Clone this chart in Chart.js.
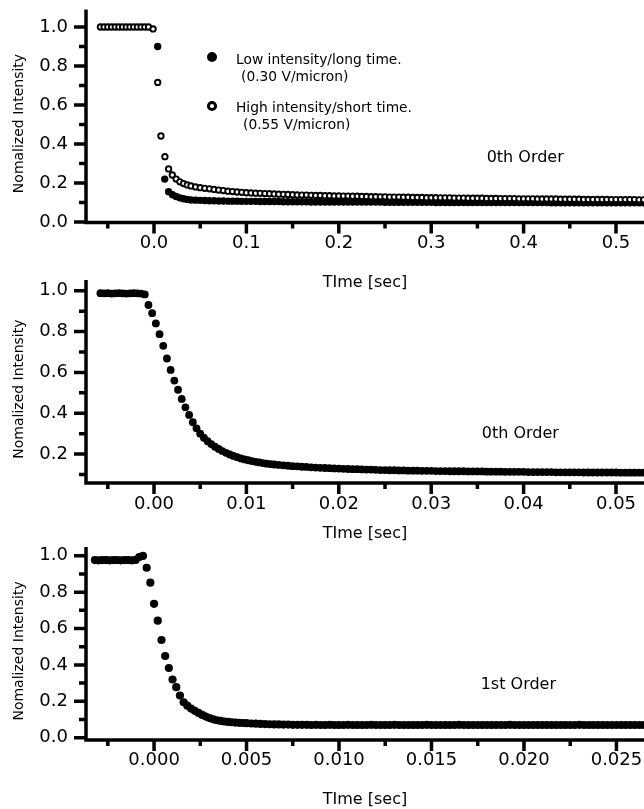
<!DOCTYPE html>
<html>
<head>
<meta charset="utf-8">
<script src="https://cdn.jsdelivr.net/npm/chart.js@4.4.0/dist/chart.umd.min.js"></script>
<style>
  html, body { margin: 0; padding: 0; background: #fff; }
  body { width: 644px; height: 809px; position: relative; overflow: hidden; }
  canvas { position: absolute; left: 0; }
</style>
</head>
<body>
<canvas id="c1" width="644" height="295" style="top:0px"></canvas>
<canvas id="c2" width="644" height="280" style="top:270px"></canvas>
<canvas id="c3" width="644" height="274" style="top:535px"></canvas>
<script>
// ===== DATA =====
const seriesNames = ['Low intensity/long time.', 'High intensity/short time.'];
const seriesFields = ['(0.30 V/micron)', '(0.55 V/micron)'];
const orderLabels = ['0th Order', '0th Order', '1st Order'];
const xTitle = 'TIme [sec]';
const yTitle = 'Nomalized Intensity';

// panel 1 - 0th order, two drive levels
const p1HighTime = [-0.058,-0.054,-0.050,-0.046,-0.042,-0.038,-0.034,-0.030,-0.026,-0.022,-0.018,-0.014,-0.010,-0.006,
  -0.001,0.004,0.0075,0.0118,0.0158,0.0198,0.024,0.028,0.032,0.036,0.040,
  0.045,0.050,0.055,0.060,0.065,0.070,0.075,0.080,0.085,0.090,0.095,0.100,
  0.105,0.110,0.115,0.120,0.125,0.130,0.135,0.140,0.145,0.150,0.155,0.160,0.165,0.170,0.175,0.180,0.185,0.190,0.195,0.200,
  0.205,0.210,0.215,0.220,0.225,0.230,0.235,0.240,0.245,0.250,0.255,0.260,0.265,0.270,0.275,0.280,0.285,0.290,0.295,0.300,
  0.305,0.310,0.315,0.320,0.325,0.330,0.335,0.340,0.345,0.350,0.355,0.360,0.365,0.370,0.375,0.380,0.385,0.390,0.395,0.400,
  0.405,0.410,0.415,0.420,0.425,0.430,0.435,0.440,0.445,0.450,0.455,0.460,0.465,0.470,0.475,0.480,0.485,0.490,0.495,0.500,
  0.505,0.510,0.515,0.520,0.525,0.530];
const p1High = [1.00,1.00,1.00,1.00,1.00,1.00,1.00,1.00,1.00,1.00,1.00,1.00,1.00,1.00,
  0.990,0.716,0.441,0.335,0.272,0.241,0.220,0.206,0.197,0.190,0.185,
  0.180,0.176,0.173,0.170,0.167,0.164,0.161,0.158,0.156,0.154,0.152,0.150,
  0.149,0.148,0.147,0.146,0.145,0.144,0.143,0.142,0.141,0.140,0.139,0.138,0.138,0.137,0.136,0.136,0.135,0.135,0.134,0.134,
  0.133,0.133,0.132,0.132,0.131,0.131,0.130,0.130,0.129,0.129,0.128,0.128,0.128,0.127,0.127,0.126,0.126,0.126,0.125,0.125,
  0.125,0.124,0.124,0.124,0.123,0.123,0.123,0.122,0.122,0.122,0.122,0.121,0.121,0.121,0.120,0.120,0.120,0.120,0.119,0.119,
  0.119,0.119,0.118,0.118,0.118,0.118,0.118,0.117,0.117,0.117,0.117,0.117,0.116,0.116,0.116,0.116,0.116,0.116,0.115,0.115,
  0.115,0.115,0.115,0.115,0.114,0.114];
const p1LowTime = [0.004,0.0116,0.0158,0.020,0.024,0.028,0.032,0.036,0.040,
  0.045,0.050,0.055,0.060,0.065,0.070,0.075,0.080,0.085,0.090,0.095,0.100,
  0.105,0.110,0.115,0.120,0.125,0.130,0.135,0.140,0.145,0.150,0.155,0.160,0.165,0.170,0.175,0.180,0.185,0.190,0.195,0.200,
  0.205,0.210,0.215,0.220,0.225,0.230,0.235,0.240,0.245,0.250,0.255,0.260,0.265,0.270,0.275,0.280,0.285,0.290,0.295,0.300,
  0.305,0.310,0.315,0.320,0.325,0.330,0.335,0.340,0.345,0.350,0.355,0.360,0.365,0.370,0.375,0.380,0.385,0.390,0.395,0.400,
  0.405,0.410,0.415,0.420,0.425,0.430,0.435,0.440,0.445,0.450,0.455,0.460,0.465,0.470,0.475,0.480,0.485,0.490,0.495,0.500,
  0.505,0.510,0.515,0.520,0.525,0.530];
const p1Low = [0.900,0.220,0.155,0.140,0.131,0.124,0.119,0.116,0.113,
  0.112,0.111,0.110,0.109,0.109,0.108,0.108,0.107,0.107,0.107,0.106,0.106,
  0.106,0.106,0.105,0.105,0.105,0.105,0.105,0.104,0.104,0.104,0.104,0.104,0.104,0.103,0.103,0.103,0.103,0.103,0.103,0.103,
  0.103,0.102,0.102,0.102,0.102,0.102,0.102,0.102,0.102,0.101,0.101,0.101,0.101,0.101,0.101,0.101,0.101,0.101,0.101,0.101,
  0.100,0.100,0.100,0.100,0.100,0.100,0.100,0.100,0.100,0.100,0.100,0.100,0.100,0.100,0.100,0.100,0.100,0.100,0.100,0.100,
  0.100,0.100,0.100,0.100,0.100,0.099,0.099,0.099,0.099,0.099,0.099,0.099,0.099,0.099,0.099,0.099,0.099,0.099,0.099,0.099,
  0.099,0.099,0.099,0.099,0.099,0.099];

// panel 2 - 0th order, expanded time
const p2Time = [-0.0058,-0.0054,-0.0050,-0.0046,-0.0042,-0.0038,-0.0034,-0.0030,-0.0026,-0.0022,-0.0018,-0.0014,-0.0010,
  -0.0006,-0.0002,0.0002,0.0006,0.0010,0.0014,0.0018,0.0022,0.0026,0.0030,0.0034,0.0038,0.0042,
  0.0046,0.0050,0.0054,0.0058,0.0062,0.0066,0.0070,0.0074,0.0078,0.0082,0.0086,0.0090,0.0094,0.0098,0.0102,0.0106,0.0110,0.0114,0.0118,0.0122,0.0126,0.0130,
  0.0135,0.0140,0.0145,0.0150,0.0155,0.0160,0.0165,0.0170,0.0175,0.0180,0.0185,0.0190,0.0195,0.0200,
  0.0205,0.0210,0.0215,0.0220,0.0225,0.0230,0.0235,0.0240,0.0245,0.0250,0.0255,0.0260,0.0265,0.0270,0.0275,0.0280,0.0285,0.0290,0.0295,0.0300,
  0.0305,0.0310,0.0315,0.0320,0.0325,0.0330,0.0335,0.0340,0.0345,0.0350,0.0355,0.0360,0.0365,0.0370,0.0375,0.0380,0.0385,0.0390,0.0395,0.0400,
  0.0405,0.0410,0.0415,0.0420,0.0425,0.0430,0.0435,0.0440,0.0445,0.0450,0.0455,0.0460,0.0465,0.0470,0.0475,0.0480,0.0485,0.0490,0.0495,0.0500,
  0.0505,0.0510,0.0515,0.0520,0.0525,0.0530];
const p2Value = [0.988,0.987,0.988,0.986,0.987,0.988,0.987,0.986,0.987,0.988,0.987,0.986,0.982,
  0.930,0.890,0.840,0.787,0.730,0.668,0.612,0.560,0.515,0.470,0.429,0.392,0.356,
  0.326,0.300,0.280,0.263,0.249,0.236,0.225,0.215,0.206,0.198,0.191,0.185,0.179,0.174,0.170,0.166,0.162,0.159,0.156,0.153,0.151,0.149,
  0.147,0.145,0.143,0.141,0.140,0.138,0.137,0.135,0.134,0.133,0.132,0.131,0.130,0.129,
  0.128,0.127,0.126,0.126,0.125,0.124,0.124,0.123,0.122,0.122,0.121,0.121,0.120,0.120,0.119,0.119,0.119,0.118,0.118,0.118,
  0.117,0.117,0.117,0.116,0.116,0.116,0.116,0.115,0.115,0.115,0.115,0.114,0.114,0.114,0.114,0.113,0.113,0.113,0.113,0.113,
  0.112,0.112,0.112,0.112,0.112,0.112,0.111,0.111,0.111,0.111,0.111,0.111,0.110,0.110,0.110,0.110,0.110,0.110,0.110,0.110,
  0.109,0.109,0.109,0.109,0.109,0.109];

// panel 3 - 1st order
const p3Time = [-0.0032,-0.0030,-0.0028,-0.0026,-0.0024,-0.0022,-0.0020,-0.0018,-0.0016,-0.0014,-0.0012,-0.0010,-0.0008,-0.0006,
  -0.0004,-0.0002,0.0000,0.0002,0.0004,0.0006,0.0008,0.0010,0.0012,0.0014,0.0016,0.0018,0.0020,0.0022,
  0.0024,0.0026,0.0028,0.0030,0.0032,0.0034,0.0036,0.0038,0.0040,0.0042,0.0044,0.0046,0.0048,0.0050,
  0.00525,0.0055,0.00575,0.0060,0.00625,0.0065,0.00675,0.0070,0.00725,0.0075,0.00775,0.0080,
  0.00825,0.0085,0.00875,0.0090,0.00925,0.0095,0.00975,0.0100,
  0.01025,0.0105,0.01075,0.0110,0.01125,0.0115,0.01175,0.0120,
  0.01225,0.0125,0.01275,0.0130,0.01325,0.0135,0.01375,0.0140,
  0.01425,0.0145,0.01475,0.0150,0.01525,0.0155,0.01575,0.0160,
  0.01625,0.0165,0.01675,0.0170,0.01725,0.0175,0.01775,0.0180,
  0.01825,0.0185,0.01875,0.0190,0.01925,0.0195,0.01975,0.0200,
  0.02025,0.0205,0.02075,0.0210,0.02125,0.0215,0.02175,0.0220,
  0.02225,0.0225,0.02275,0.0230,0.02325,0.0235,0.02375,0.0240,
  0.02425,0.0245,0.02475,0.0250,0.02525,0.0255,0.02575,0.0260,
  0.02625,0.0265];
const p3Value = [0.976,0.975,0.976,0.976,0.975,0.976,0.976,0.975,0.976,0.976,0.975,0.977,0.993,0.999,
  0.934,0.852,0.736,0.643,0.537,0.449,0.383,0.320,0.278,0.232,0.195,0.176,0.160,0.148,
  0.136,0.125,0.116,0.108,0.101,0.096,0.092,0.089,0.087,0.085,0.083,0.082,0.081,0.080,
  0.078,0.077,0.076,0.075,0.074,0.073,0.073,0.072,0.072,0.071,0.071,0.071,
  0.071,0.070,0.071,0.070,0.070,0.071,0.070,0.070,
  0.070,0.071,0.070,0.070,0.070,0.070,0.071,0.070,
  0.070,0.070,0.070,0.071,0.070,0.070,0.070,0.070,
  0.070,0.070,0.071,0.070,0.070,0.070,0.070,0.070,
  0.070,0.071,0.070,0.070,0.070,0.070,0.070,0.070,
  0.070,0.070,0.070,0.070,0.071,0.070,0.070,0.070,
  0.070,0.070,0.070,0.070,0.070,0.070,0.070,0.070,
  0.070,0.070,0.070,0.071,0.070,0.070,0.070,0.070,
  0.070,0.070,0.070,0.070,0.070,0.070,0.070,0.070,
  0.070,0.070];

// tick values
const yMajorA = [0, 0.2, 0.4, 0.6, 0.8, 1.0];
const yMajorB = [0.2, 0.4, 0.6, 0.8, 1.0];
const yMinor = [0.1, 0.3, 0.5, 0.7, 0.9];
const xMajor1 = [0, 0.1, 0.2, 0.3, 0.4, 0.5];
const xMinor1 = [-0.05, 0.05, 0.15, 0.25, 0.35, 0.45];
const xMajor2 = [0, 0.01, 0.02, 0.03, 0.04, 0.05];
const xMinor2 = [-0.005, 0.005, 0.015, 0.025, 0.035, 0.045];
const xMajor3 = [0, 0.005, 0.010, 0.015, 0.020, 0.025];
const xMinor3 = [-0.0025, 0.0025, 0.0075, 0.0125, 0.0175, 0.0225];

const FONT = 'DejaVu Sans';
const pts = (t, v) => t.map((x, i) => ({ x, y: v[i] }));

// ===== AXES / TEXT PLUGIN =====
function axesPlugin(cfg) {
  return {
    id: 'axesDraw',
    afterDraw(chart) {
      const { ctx, chartArea: a, scales: { x, y } } = chart;
      ctx.save();
      ctx.strokeStyle = '#000';
      ctx.fillStyle = '#000';
      ctx.lineWidth = 3.5;
      ctx.beginPath();
      ctx.moveTo(a.left, a.top); ctx.lineTo(a.left, a.bottom + 1.75);
      ctx.moveTo(a.left - 1.75, a.bottom); ctx.lineTo(a.right, a.bottom);
      cfg.yMajor.forEach(v => { const p = y.getPixelForValue(v); ctx.moveTo(a.left - 12, p); ctx.lineTo(a.left, p); });
      yMinor.forEach(v => { const p = y.getPixelForValue(v); ctx.moveTo(a.left - 7, p); ctx.lineTo(a.left, p); });
      cfg.xMajor.forEach(v => { const p = x.getPixelForValue(v); ctx.moveTo(p, a.bottom); ctx.lineTo(p, a.bottom + 11); });
      cfg.xMinor.forEach(v => { const p = x.getPixelForValue(v); ctx.moveTo(p, a.bottom); ctx.lineTo(p, a.bottom + 6); });
      ctx.stroke();

      // y title
      ctx.save();
      ctx.translate(19, (a.top + a.bottom) / 2 + 7.5);
      ctx.rotate(-Math.PI / 2);
      ctx.font = `14px "${FONT}"`;
      ctx.textAlign = 'center';
      ctx.textBaseline = 'middle';
      ctx.fillText(yTitle, 0, 0);
      ctx.restore();

      // order note
      ctx.font = `16px "${FONT}"`;
      ctx.textAlign = 'left';
      ctx.textBaseline = 'alphabetic';
      ctx.fillText(cfg.note.text, x.getPixelForValue(cfg.note.x), y.getPixelForValue(cfg.note.y));

      // legend (panel 1 only)
      if (cfg.legend) {
        ctx.font = `13.8px "${FONT}"`;
        ctx.beginPath(); ctx.arc(212, 57, 5, 0, Math.PI * 2); ctx.fill();
        ctx.fillText(seriesNames[0], 236, 63.5);
        ctx.fillText(seriesFields[0], 241, 80.5);
        ctx.lineWidth = 3;
        ctx.beginPath(); ctx.arc(212, 106, 3.6, 0, Math.PI * 2); ctx.stroke();
        ctx.fillText(seriesNames[1], 236, 111.7);
        ctx.fillText(seriesFields[1], 243, 128.5);
      }
      ctx.restore();
    }
  };
}

function makePanel(id, cfg) {
  return new Chart(document.getElementById(id), {
    type: 'scatter',
    data: { datasets: cfg.datasets },
    options: {
      responsive: false,
      animation: false,
      events: [],
      layout: { autoPadding: false, padding: { top: cfg.top, left: 0, right: 0, bottom: 0 } },
      plugins: { legend: { display: false }, tooltip: { enabled: false } },
      scales: {
        x: {
          type: 'linear', min: cfg.xMin, max: cfg.xMax,
          grid: { display: false, drawTicks: false }, border: { display: false },
          afterBuildTicks: s => { s.ticks = cfg.xMajor.map(v => ({ value: v })); },
          afterFit: s => { s.height = cfg.xHeight; s.paddingLeft = 0; s.paddingRight = 0; },
          ticks: {
            padding: 10, color: '#000', maxRotation: 0, autoSkip: false,
            font: { family: FONT, size: 18 },
            callback: v => v.toFixed(cfg.xDigits)
          },
          title: {
            display: true, text: xTitle, color: '#000',
            font: { family: FONT, size: 16 },
            padding: { top: 0, bottom: cfg.titlePad }
          }
        },
        y: {
          type: 'linear', min: cfg.yMin, max: cfg.yMax,
          grid: { display: false, drawTicks: false }, border: { display: false },
          afterBuildTicks: s => { s.ticks = cfg.yMajor.map(v => ({ value: v })); },
          afterFit: s => { s.width = 86; s.paddingTop = 0; s.paddingBottom = 0; },
          ticks: {
            padding: 18, color: '#000',
            font: { family: FONT, size: 18 },
            callback: v => v.toFixed(1)
          }
        }
      }
    },
    plugins: [axesPlugin(cfg)]
  });
}

const filled = r => ({ pointRadius: r, pointBorderWidth: 0, pointBackgroundColor: '#000', pointBorderColor: '#000' });

makePanel('c1', {
  top: 9.45, xHeight: 72.4, titlePad: 2.4,
  xMin: -0.0736, xMax: 0.5303, yMin: -0.003, yMax: 1.09,
  xMajor: xMajor1, xMinor: xMinor1, yMajor: yMajorA, xDigits: 1,
  note: { text: orderLabels[0], x: 0.360, y: 0.31 },
  legend: true,
  datasets: [
    { label: seriesNames[1], data: pts(p1HighTime, p1High),
      pointRadius: 2.7, pointBorderWidth: 1.9, pointBorderColor: '#000', pointBackgroundColor: '#fff' },
    { label: seriesNames[0], data: pts(p1LowTime, p1Low), ...filled(3.7) }
  ]
});

makePanel('c2', {
  top: 10.1, xHeight: 66.9, titlePad: 6.4,
  xMin: -0.00736, xMax: 0.05303, yMin: 0.058, yMax: 1.052,
  xMajor: xMajor2, xMinor: xMinor2, yMajor: yMajorB, xDigits: 2,
  note: { text: orderLabels[1], x: 0.03547, y: 0.279 },
  datasets: [{ label: orderLabels[1], data: pts(p2Time, p2Value), ...filled(3.9) }]
});

makePanel('c3', {
  top: 12, xHeight: 69.1, titlePad: 0,
  xMin: -0.00368, xMax: 0.02649, yMin: -0.012, yMax: 1.048,
  xMajor: xMajor3, xMinor: xMinor3, yMajor: yMajorA, xDigits: 3,
  note: { text: orderLabels[2], x: 0.01766, y: 0.268 },
  datasets: [{ label: orderLabels[2], data: pts(p3Time, p3Value), ...filled(4.1) }]
});
</script>
</body>
</html>
